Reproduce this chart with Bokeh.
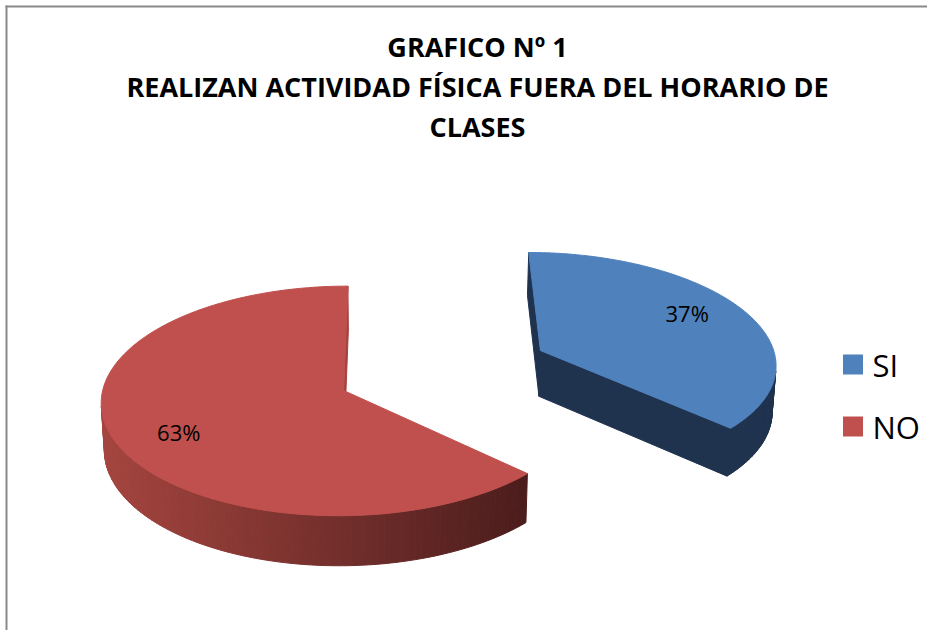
import numpy as np
from bokeh.plotting import figure
from bokeh.models import Range1d, ColumnDataSource
from bokeh.embed import file_html
from bokeh.resources import INLINE
from bokeh.core.properties import value

# ---------------- data ----------------
categories = ["SI", "NO"]
values = [37, 63]
labels = ["37%", "63%"]
top_colors = ["#4F81BD", "#C0504D"]
wall_light = ["#1F324E", "#A5453F"]
wall_dark = ["#1F324E", "#4B1D1C"]
radial_colors = ["#1F324E", "#A34340"]
title_lines = ["GRAFICO Nº 1",
               "REALIZAN ACTIVIDAD FÍSICA FUERA DEL HORARIO DE",
               "CLASES"]

# ---------------- layout / projection ----------------
W, H = 927, 630
K = 237.0                 # pixels per pie radius
D = 9.9                   # camera distance (radius units)
SE = 0.465
CE = np.sqrt(1 - SE ** 2)
EXPLODE = 0.456
XA = -0.203
AX, AY = 395.0, 369.7
THICK = 0.223
LABEL_R = 0.72
LABEL_VSCALE = 1.25
CAM = np.array([XA, D * SE, D * CE])


def project(x, y, z):
    x = np.asarray(x, float); y = np.asarray(y, float); z = np.asarray(z, float)
    xc = x - XA
    ys = y * CE - z * SE
    zc = z * CE + y * SE
    s = D / (D - zc)
    return AX + K * xc * s, AY - K * ys * s, zc


def hex2rgb(h):
    h = h.lstrip("#")
    return np.array([int(h[i:i + 2], 16) for i in (0, 2, 4)], float)


def lerp_col(a, b, t):
    c = hex2rgb(a) * (1 - t) + hex2rgb(b) * t
    return "#%02x%02x%02x" % tuple(int(round(v)) for v in c)


p = figure(width=W, height=H, output_backend="svg", toolbar_location=None,
           x_range=Range1d(0, W), y_range=Range1d(H, 0),
           x_axis_type=None, y_axis_type=None, min_border=0,
           background_fill_color="white", border_fill_color="white")
p.outline_line_color = None
p.grid.visible = False

total = float(sum(values))
bounds = np.concatenate([[0.0], np.cumsum(values) / total]) * 2 * np.pi

slices = []
for i in range(len(values)):
    t1, t2 = bounds[i], bounds[i + 1]
    tm = 0.5 * (t1 + t2)
    c = EXPLODE * np.array([np.sin(tm), 0.0, -np.cos(tm)])
    slices.append((i, t1, t2, tm, c))

# far slices first
slices.sort(key=lambda s: project(*s[4])[2])

xs_all, ys_all, cols = [], [], []
label_pts = []
for i, t1, t2, tm, c in slices:
    faces = []

    def rim(th, yy):
        return np.array([c[0] + np.sin(th), yy, c[2] - np.cos(th)])

    # outer wall
    n = 160
    ths = np.linspace(t1, t2, n + 1)
    wall = []
    for a, b in zip(ths[:-1], ths[1:]):
        m = 0.5 * (a + b)
        nrm = np.array([np.sin(m), 0.0, -np.cos(m)])
        P = c + nrm
        if np.dot(CAM - P, nrm) > 0:
            pts = np.array([rim(a, 0), rim(b, 0), rim(b, -THICK), rim(a, -THICK)])
            X, Y, Z = project(pts[:, 0], pts[:, 1], pts[:, 2])
            wall.append((Z.mean(), X, Y))
    if wall:
        xm = [w[1].mean() for w in wall]
        lo, hi = min(xm), max(xm)
        for (z, X, Y), xx in zip(wall, xm):
            t = 0 if hi == lo else (xx - lo) / (hi - lo)
            faces.append((z, X, Y, lerp_col(wall_light[i], wall_dark[i], t)))

    # radial faces
    for th, sign in ((t1, -1.0), (t2, 1.0)):
        nrm = sign * np.array([np.cos(th), 0.0, np.sin(th)])
        P = 0.5 * (c + rim(th, 0))
        if np.dot(CAM - P, nrm) > 0:
            pts = np.array([c, rim(th, 0), rim(th, -THICK), c + np.array([0, -THICK, 0])])
            X, Y, Z = project(pts[:, 0], pts[:, 1], pts[:, 2])
            faces.append((Z.mean(), X, Y, radial_colors[i]))

    faces.sort(key=lambda f: f[0])
    for z, X, Y, col in faces:
        xs_all.append(list(X)); ys_all.append(list(Y)); cols.append(col)

    # top face
    arc = np.linspace(t1, t2, 200)
    tx = np.concatenate([[c[0]], c[0] + np.sin(arc)])
    tz = np.concatenate([[c[2]], c[2] - np.cos(arc)])
    X, Y, _ = project(tx, np.zeros_like(tx), tz)
    xs_all.append(list(X)); ys_all.append(list(Y)); cols.append(top_colors[i])

    cx, cy, _ = project(c[0], 0.0, c[2])
    lx, ly, _ = project(c[0] + LABEL_R * np.sin(tm), 0.0, c[2] - LABEL_R * np.cos(tm))
    ly = cy + (ly - cy) * LABEL_VSCALE
    label_pts.append((float(lx), float(ly), labels[i]))

src = ColumnDataSource(dict(xs=xs_all, ys=ys_all, c=cols))
p.patches("xs", "ys", source=src, fill_color="c", line_color="c", line_width=1)

p.text(x=[l[0] for l in label_pts], y=[l[1] for l in label_pts],
       text=[l[2] for l in label_pts], text_font=value("Open Sans"),
       text_font_size="22px", text_align="center", text_baseline="middle",
       text_color="black")

# title
p.text(x=[477] * 3, y=[46, 86, 126], text=title_lines, text_font=value("Open Sans"),
       text_font_size="27px", text_font_style="bold", text_align="center",
       text_baseline="middle", text_color="black")

# legend
leg_y = [364 + 62 * k for k in range(len(categories))]
p.rect(x=[852.5] * len(categories), y=leg_y, width=20, height=20,
       width_units="screen", height_units="screen",
       fill_color=top_colors, line_color=None)
p.text(x=[872] * len(categories), y=leg_y, text=categories,
       text_font=value("Open Sans"), text_font_size="31px",
       text_align="left", text_baseline="middle", text_color="black")

# chart-area border (left and top visible)
p.line(x=[6, 6], y=[5, H], line_color="#898989", line_width=2)
p.line(x=[5, W], y=[6, 6], line_color="#898989", line_width=2)

open("out.html", "w").write(file_html(p, INLINE))
